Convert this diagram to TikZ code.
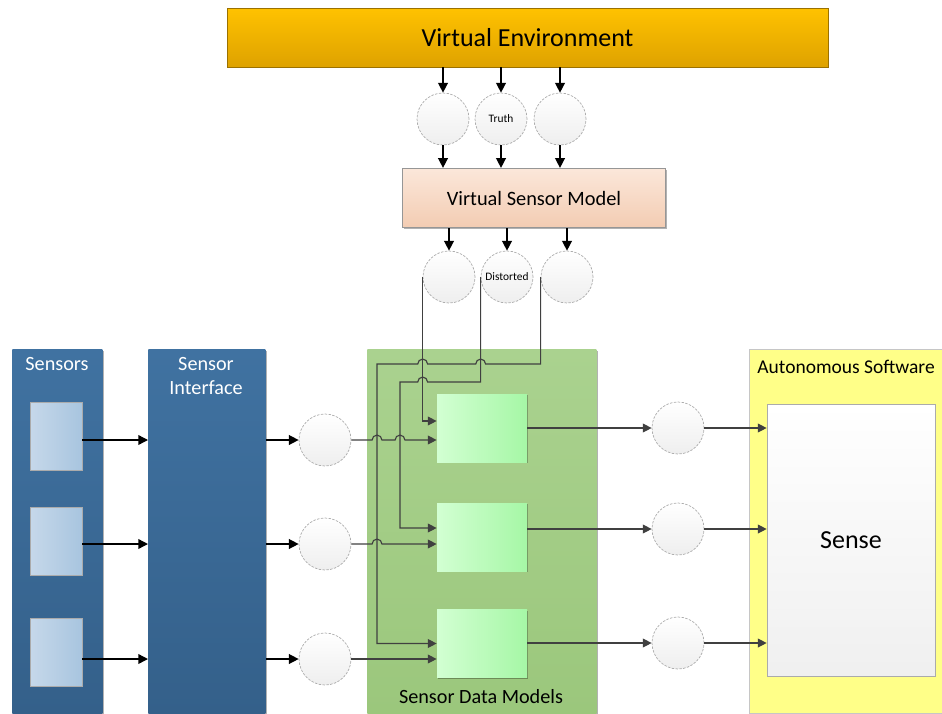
\documentclass[tikz,border=0pt]{standalone}
\usepackage{fontspec}
\setmainfont{Carlito}
\usetikzlibrary{arrows.meta, positioning, calc, shadows}
\definecolor{envgold}{RGB}{255, 194, 0}
\definecolor{envgolddark}{RGB}{222, 162, 0}
\definecolor{vsmpeach}{RGB}{251, 231, 218}
\definecolor{vsmpeachdark}{RGB}{243, 204, 178}
\definecolor{panelblue}{RGB}{64, 114, 161}
\definecolor{panelbluedark}{RGB}{52, 96, 138}
\definecolor{sensbluelight}{RGB}{198, 216, 234}
\definecolor{sensblue}{RGB}{168, 197, 223}
\definecolor{panelgreen}{RGB}{170, 210, 143}
\definecolor{panelgreendark}{RGB}{155, 199, 124}
\definecolor{modgreenlight}{RGB}{210, 255, 210}
\definecolor{modgreen}{RGB}{166, 247, 166}
\definecolor{autoyellow}{RGB}{255, 255, 136}
\definecolor{linegray}{RGB}{64, 64, 64}
\definecolor{edgegray}{RGB}{150, 150, 150}
\tikzset{
  softshadow/.style  = {drop shadow={shadow xshift=0.8pt, shadow yshift=-0.8pt, opacity=0.3, fill=black}},
  envbox/.style      = {rectangle, draw=envgolddark!70!black, top color=envgold, bottom color=envgolddark, minimum width=12.02cm, minimum height=1.18cm, inner sep=0pt, font=\fontsize{14.8}{17}\selectfont, softshadow},
  vsmbox/.style      = {rectangle, draw=edgegray, top color=vsmpeach, bottom color=vsmpeachdark, minimum width=5.25cm, minimum height=1.19cm, inner sep=0pt, font=\fontsize{11.6}{14}\selectfont, softshadow},
  sig/.style         = {circle, draw=gray!65, line width=0.4pt, dash pattern=on 1.4pt off 0.8pt, top color=white, bottom color=gray!13, minimum size=1.04cm, inner sep=0pt, font=\fontsize{6.5}{7}\selectfont},
  panel/.style       = {rectangle, inner sep=0pt, minimum height=7.28cm, anchor=north west},
  bluepanel/.style   = {panel, top color=panelblue, bottom color=panelbluedark, softshadow},
  greenpanel/.style  = {panel, top color=panelgreen, bottom color=panelgreendark, minimum width=4.58cm, softshadow},
  yellowpanel/.style = {panel, fill=autoyellow, draw=gray!45, minimum width=3.9cm},
  paneltext/.style   = {text=white, align=center, font=\fontsize{11.5}{13.7}\selectfont},
  blacktext/.style   = {text=black, font=\fontsize{11.5}{13.7}\selectfont},
  sensbox/.style     = {rectangle, draw=edgegray!80, left color=sensbluelight, right color=sensblue, minimum width=1.04cm, minimum height=1.36cm, inner sep=0pt, softshadow},
  modbox/.style      = {rectangle, left color=modgreenlight, right color=modgreen, minimum width=1.8cm, minimum height=1.36cm, inner sep=0pt, softshadow},
  sensebox/.style    = {rectangle, draw=edgegray!80, top color=white, bottom color=gray!12, minimum width=3.36cm, minimum height=5.44cm, inner sep=0pt, font=\fontsize{14.8}{17}\selectfont, softshadow},
  flowk/.style       = {-{Triangle[length=5.5pt, width=5.5pt]}, line width=0.8pt, black},
  feed/.style        = {-{Triangle[length=5pt, width=5pt]}, line width=0.65pt, linegray},
}

\begin{document}
\begin{tikzpicture}[x=0.02cm, y=-0.02cm]

% canvas
\useasboundingbox (0,0) rectangle (942,713);

% column panels
\node[bluepanel, minimum width=1.8cm] (sensors) at (12,349) {};
\node[bluepanel, minimum width=2.34cm] (si) at (148,349) {};
\node[greenpanel] (sdm) at (367,349) {};
\node[yellowpanel] (auto) at (749,349) {};

% panel titles
\node[paneltext] (sensorslbl) at (57,364) {Sensors};
\node[paneltext] (silbl) at (206,376) {Sensor\\Interface};
\node[blacktext] (sdmlbl) at (481,697) {Sensor Data Models};
\node[blacktext, anchor=west, inner sep=0pt, font=\fontsize{11.1}{13}\selectfont] (autolbl) at (757,367) {Autonomous Software};

% virtual environment and sensor model
\node[envbox] (ve) at (527.5,37.5) {Virtual Environment};
\node[sig] (t1) at (443,119) {};
\node[sig] (t2) at (501,119) {Truth};
\node[sig] (t3) at (560,119) {};
\node[vsmbox] (vsm) at (534,198) {Virtual Sensor Model};
\node[sig] (d1) at (449,277) {};
\node[sig] (d2) at (507,277) {Distorted};
\node[sig] (d3) at (567,277) {};

% sensors
\node[sensbox] (sb1) at (56,436) {};
\node[sensbox] (sb2) at (56,541) {};
\node[sensbox] (sb3) at (56,652) {};

% raw signals
\node[sig] (in1) at (325,440) {};
\node[sig] (in2) at (325,544) {};
\node[sig] (in3) at (325,659) {};

% sensor data models
\node[modbox] (m1) at (482,428) {};
\node[modbox] (m2) at (482,537) {};
\node[modbox] (m3) at (482,643.5) {};

% model outputs
\node[sig] (o1) at (678,428) {};
\node[sig] (o2) at (678,529) {};
\node[sig] (o3) at (678,643) {};

% autonomy
\node[sensebox] (sense) at (851,540) {Sense};

% bend points of the distorted feeds
\coordinate (k2) at (400,382);
\coordinate (k3) at (377,364);

% truth in, distortion out
\draw[flowk] (ve.south -| t1) -- (t1.north);
\draw[flowk] (ve.south -| t2) -- (t2.north);
\draw[flowk] (ve.south -| t3) -- (t3.north);
\draw[flowk] (t1.south) -- (vsm.north -| t1);
\draw[flowk] (t2.south) -- (vsm.north -| t2);
\draw[flowk] (t3.south) -- (vsm.north -| t3);
\draw[flowk] (vsm.south -| d1) -- (d1.north);
\draw[flowk] (vsm.south -| d2) -- (d2.north);
\draw[flowk] (vsm.south -| d3) -- (d3.north);

% sensors to interface to signals
\draw[flowk] (sb1.east |- in1) -- (si.west |- in1);
\draw[flowk] (sb2.east |- in2) -- (si.west |- in2);
\draw[flowk] (sb3.east |- in3) -- (si.west |- in3);
\draw[flowk] (si.east |- in1) -- (in1.west);
\draw[flowk] (si.east |- in2) -- (in2.west);
\draw[flowk] (si.east |- in3) -- (in3.west);

% distorted feeds into the models (with line jumps)
\draw[feed] (d1.west) |- ([yshift=0.14cm]m1.west);
\draw[feed] (d2.west) |- ($(d1.west |- k2)+(2.8pt,0pt)$) arc[start angle=0, end angle=180, radius=2.8pt]
  -- (k2) |- ([yshift=0.18cm]m2.west);
\draw[feed] (d3.west) |- ($(d2.west |- k3)+(2.8pt,0pt)$) arc[start angle=0, end angle=180, radius=2.8pt]
  -- ($(d1.west |- k3)+(2.8pt,0pt)$) arc[start angle=0, end angle=180, radius=2.8pt]
  -- (k3) |- (m3.west);

% signals into the models
\draw[feed] (in1.east) -- ($(k3 |- in1)+(-2.8pt,0pt)$) arc[start angle=180, end angle=0, radius=2.8pt]
  -- ($(k2 |- in1)+(-2.8pt,0pt)$) arc[start angle=180, end angle=0, radius=2.8pt] -- (m1.west |- in1);
\draw[feed] (in2.east) -- ($(k3 |- in2)+(-2.8pt,0pt)$) arc[start angle=180, end angle=0, radius=2.8pt]
  -- (m2.west |- in2);
\draw[feed] (in3.east) -- (m3.west |- in3);

% models to sense
\draw[feed] (m1.east |- o1) -- (o1.west);
\draw[feed] (m2.east |- o2) -- (o2.west);
\draw[feed] (m3.east |- o3) -- (o3.west);
\draw[feed] (o1.east) -- (sense.west |- o1);
\draw[feed] (o2.east) -- (sense.west |- o2);
\draw[feed] (o3.east) -- (sense.west |- o3);

\end{tikzpicture}
\end{document}
